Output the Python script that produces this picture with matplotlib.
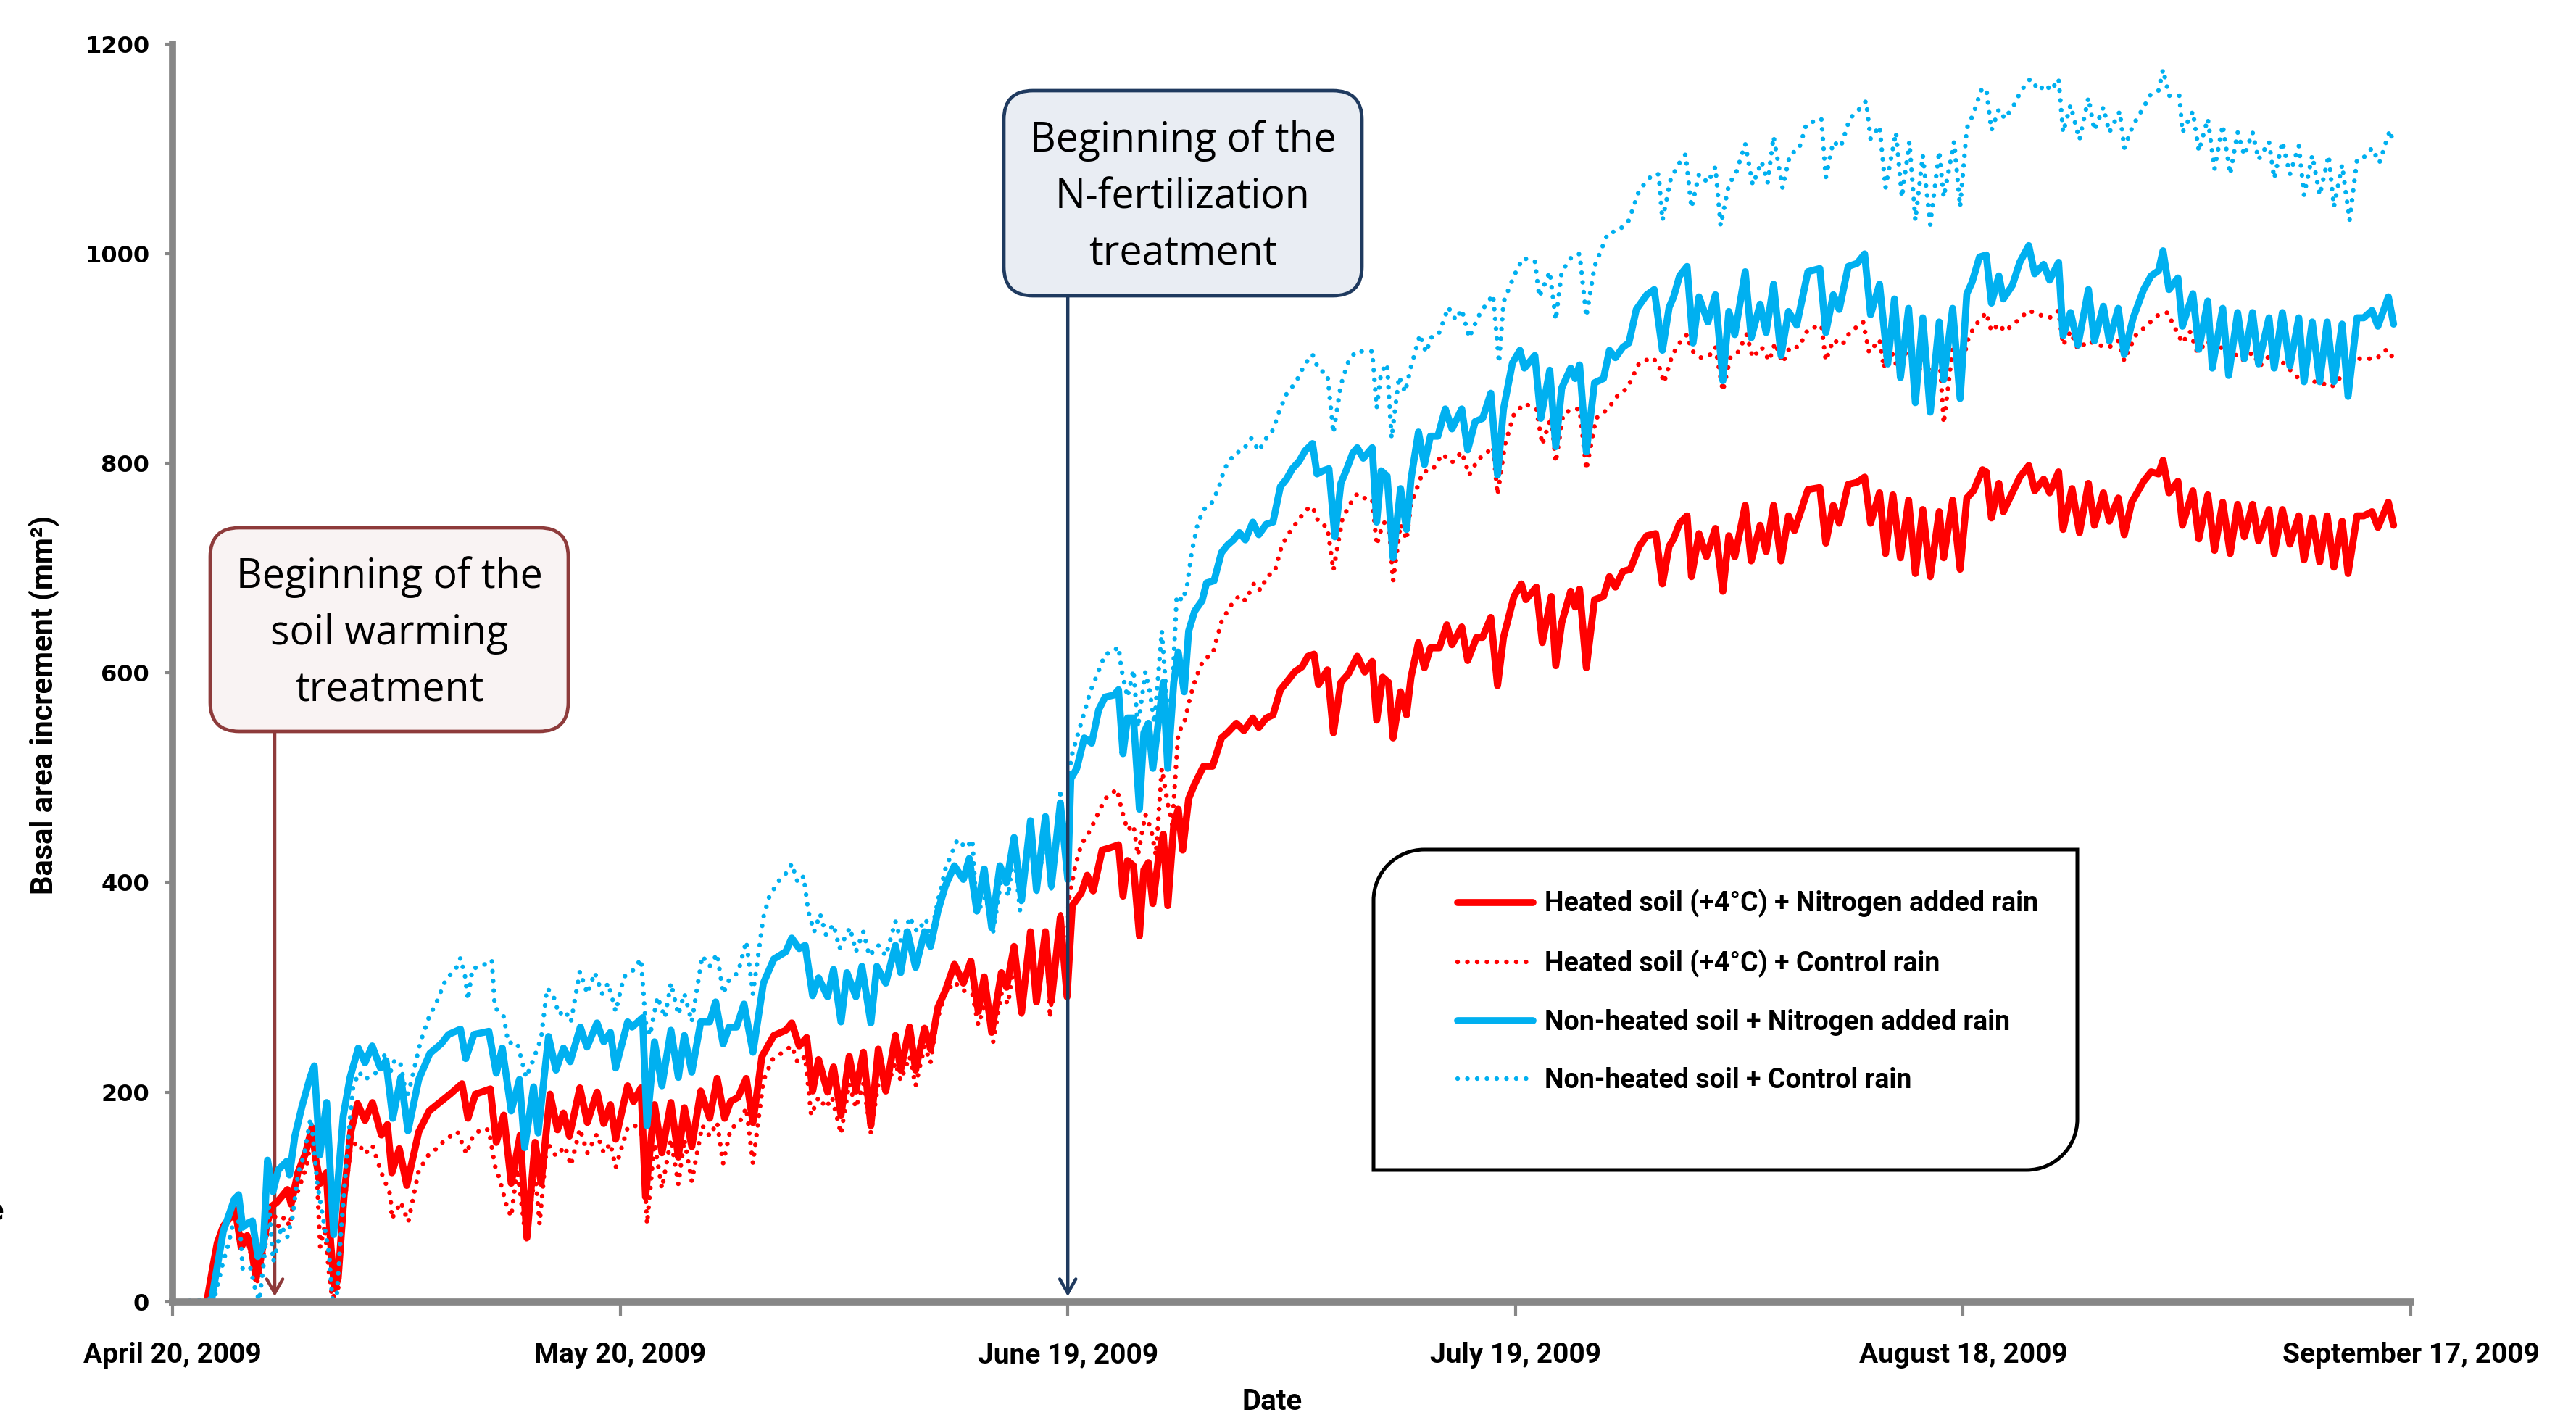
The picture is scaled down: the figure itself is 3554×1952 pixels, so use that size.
import numpy as np
import matplotlib
matplotlib.use('Agg')
import matplotlib.pyplot as plt
from matplotlib.patches import FancyBboxPatch, PathPatch
from matplotlib.path import Path

# (days after April 20, 2009, basal area increment in mm2)
heated_n = [
    (2.3, 0), (2.7, 33), (3.0, 56), (3.4, 72), (3.8, 79), (4.2, 88), (4.6, 52), (5.0, 63), (5.3, 49), (5.6, 22),
    (5.9, 40), (6.3, 72), (6.65, 91), (7.0, 95), (7.3, 100), (7.7, 107), (7.95, 93), (8.4, 123), (8.9, 141), (9.35, 166),
    (9.6, 136), (9.9, 113), (10.3, 123), (10.6, 56), (10.85, 12), (11.1, 22), (11.5, 102), (11.95, 162), (12.4, 189), (12.9, 173),
    (13.4, 190), (14.0, 159), (14.4, 169), (14.7, 123), (15.2, 146), (15.7, 111), (16.5, 162), (17.2, 182), (17.9, 190), (18.6, 198),
    (19.4, 208), (19.8, 175), (20.3, 198), (21.3, 203), (21.7, 152), (22.2, 178), (22.7, 113), (23.3, 159), (23.75, 61), (24.3, 152),
    (24.7, 113), (25.3, 198), (25.8, 164), (26.2, 180), (26.6, 158), (27.3, 204), (27.8, 171), (28.45, 200), (28.9, 170), (29.35, 188),
    (29.7, 155), (30.5, 206), (30.9, 191), (31.4, 204), (31.7, 100), (32.3, 188), (32.8, 142), (33.4, 190), (33.9, 138), (34.3, 185),
    (34.8, 148), (35.4, 201), (36.0, 175), (36.5, 213), (37.0, 175), (37.4, 191), (37.9, 195), (38.45, 213), (38.9, 171), (39.5, 234),
    (40.3, 254), (41.1, 259), (41.5, 266), (42.0, 244), (42.5, 252), (42.9, 201), (43.3, 231), (43.9, 200), (44.3, 224), (44.8, 178),
    (45.35, 234), (45.8, 201), (46.3, 238), (46.8, 168), (47.3, 241), (47.8, 201), (48.45, 254), (48.8, 221), (49.4, 262), (49.8, 221),
    (50.4, 261), (50.8, 241), (51.3, 281), (51.8, 297), (52.4, 322), (53.0, 304), (53.5, 325), (54.0, 277), (54.4, 310), (54.9, 257),
    (55.55, 314), (55.9, 300), (56.4, 339), (56.9, 276), (57.5, 353), (57.9, 286), (58.5, 353), (58.9, 287), (59.5, 367), (59.95, 291),
    (60.3, 378), (60.9, 390), (61.3, 407), (61.7, 392), (62.3, 431), (62.8, 433), (63.4, 436), (63.7, 387), (64.0, 421), (64.4, 416),
    (64.8, 349), (65.1, 412), (65.4, 419), (65.7, 380), (66.1, 426), (66.4, 446), (66.7, 378), (67.1, 455), (67.4, 470), (67.7, 431),
    (68.1, 480), (68.5, 494), (69.1, 511), (69.7, 511), (70.3, 538), (70.7, 543), (71.3, 552), (71.8, 545), (72.4, 557), (72.8, 548),
    (73.3, 557), (73.75, 560), (74.25, 584), (74.65, 591), (75.2, 601), (75.7, 606), (76.1, 616), (76.5, 618), (76.8, 589), (77.4, 603),
    (77.8, 543), (78.3, 591), (78.8, 599), (79.4, 616), (79.9, 601), (80.4, 611), (80.7, 555), (81.1, 596), (81.5, 591), (81.8, 538),
    (82.3, 582), (82.7, 560), (83.0, 596), (83.5, 629), (83.9, 605), (84.3, 624), (84.9, 624), (85.4, 646), (85.75, 627), (86.4, 644),
    (86.8, 612), (87.4, 634), (87.8, 634), (88.35, 653), (88.8, 588), (89.2, 634), (89.9, 673), (90.4, 685), (90.7, 670), (91.4, 682),
    (91.8, 629), (92.4, 673), (92.7, 607), (93.1, 648), (93.7, 678), (94.0, 663), (94.3, 680), (94.75, 605), (95.3, 670), (95.9, 673),
    (96.3, 692), (96.7, 682), (97.2, 697), (97.7, 699), (98.3, 721), (98.8, 731), (99.4, 733), (99.85, 685), (100.3, 721), (100.6, 728),
    (101.0, 743), (101.5, 750), (101.8, 692), (102.3, 733), (102.8, 711), (103.4, 738), (103.9, 678), (104.3, 731), (104.7, 711), (105.4, 760),
    (105.8, 707), (106.4, 741), (106.8, 716), (107.3, 760), (107.8, 707), (108.3, 750), (108.7, 736), (109.6, 775), (110.4, 777), (110.8, 724),
    (111.3, 760), (111.7, 743), (112.3, 780), (112.9, 782), (113.4, 787), (113.8, 743), (114.4, 772), (114.8, 714), (115.3, 770), (115.8, 710),
    (116.35, 765), (116.8, 695), (117.3, 756), (117.8, 692), (118.4, 754), (118.7, 710), (119.3, 765), (119.8, 699), (120.25, 767), (120.7, 774),
    (121.3, 794), (121.55, 792), (121.9, 748), (122.4, 781), (122.7, 754), (123.3, 772), (123.8, 787), (124.4, 798), (124.8, 774), (125.4, 785),
    (125.8, 772), (126.4, 792), (126.7, 737), (127.3, 776), (127.8, 734), (128.4, 781), (128.8, 741), (129.4, 772), (129.8, 745), (130.4, 767),
    (130.8, 732), (131.3, 763), (132.1, 783), (132.6, 792), (133.1, 790), (133.4, 803), (133.8, 772), (134.4, 783), (134.7, 741), (135.4, 774),
    (135.8, 728), (136.4, 770), (136.85, 717), (137.4, 763), (137.9, 714), (138.4, 761), (138.85, 730), (139.4, 761), (139.8, 726), (140.5, 756),
    (140.85, 714), (141.4, 756), (141.9, 723), (142.5, 750), (142.85, 708), (143.4, 748), (143.9, 706), (144.4, 750), (144.85, 701), (145.4, 745),
    (145.8, 695), (146.4, 750), (146.85, 750), (147.4, 754), (147.8, 739), (148.5, 763), (148.85, 741),
]

heated_ctrl = [
    (2.3, 0), (2.57, 17), (2.84, 38), (3.12, 61), (3.5, 77), (3.86, 84), (4.24, 79), (4.6, 65), (5.07, 56), (5.45, 33),
    (5.7, 19), (6.0, 38), (6.4, 68), (6.75, 86), (7.1, 72), (7.5, 81), (7.86, 72), (8.1, 95), (8.5, 109), (9.0, 130),
    (9.35, 162), (9.63, 132), (9.9, 52), (10.2, 72), (10.5, 26), (10.7, 3), (11.1, 12), (11.5, 91), (11.95, 148), (12.4, 152),
    (12.9, 141), (13.4, 149), (14.0, 123), (14.6, 102), (14.7, 79), (15.3, 95), (15.8, 76), (16.5, 125), (17.2, 141), (17.7, 146),
    (18.3, 155), (19.1, 162), (19.7, 141), (20.1, 157), (20.7, 165), (21.2, 164), (21.6, 130), (21.9, 118), (22.4, 91), (22.7, 81),
    (23.1, 127), (23.7, 58), (24.3, 123), (24.6, 74), (25.1, 152), (25.7, 139), (26.3, 148), (26.7, 130), (27.3, 165), (27.8, 142),
    (28.45, 160), (28.9, 142), (29.35, 151), (29.7, 128), (30.5, 166), (31.0, 168), (31.5, 158), (31.8, 74), (32.3, 151), (32.8, 108),
    (33.4, 155), (33.9, 112), (34.3, 155), (34.8, 115), (35.5, 168), (36.0, 158), (36.5, 171), (36.9, 132), (37.4, 165), (38.0, 171),
    (38.45, 185), (38.9, 132), (39.6, 211), (40.2, 231), (40.9, 238), (41.5, 244), (41.9, 228), (42.4, 234), (42.8, 178), (43.3, 195),
    (43.8, 185), (44.2, 195), (44.8, 160), (45.35, 208), (45.8, 185), (46.3, 208), (46.8, 161), (47.3, 208), (47.8, 201), (48.45, 228),
    (48.8, 211), (49.4, 234), (49.8, 206), (50.4, 244), (50.8, 228), (51.2, 267), (51.8, 294), (52.4, 305), (53.0, 297), (53.6, 294),
    (54.0, 264), (54.5, 287), (55.0, 248), (55.55, 294), (56.0, 284), (56.4, 324), (56.9, 274), (57.4, 347), (57.9, 284), (58.6, 347),
    (58.8, 271), (59.5, 373), (59.95, 294), (60.05, 382), (60.5, 416), (60.9, 436), (61.5, 450), (62.0, 465), (62.5, 480), (63.3, 489),
    (63.6, 470), (64.0, 450), (64.4, 455), (64.7, 426), (65.2, 465), (65.6, 450), (65.9, 426), (66.3, 509), (66.7, 475), (67.0, 455),
    (67.4, 543), (67.8, 552), (68.2, 577), (68.6, 596), (69.1, 613), (69.7, 618), (70.3, 649), (70.9, 664), (71.5, 674), (71.9, 669),
    (72.5, 686), (72.9, 679), (73.4, 693), (73.85, 696), (74.35, 722), (74.85, 734), (75.5, 747), (76.0, 756), (76.4, 759), (76.8, 744),
    (77.4, 739), (77.8, 698), (78.4, 747), (78.9, 761), (79.4, 771), (80.0, 766), (80.4, 766), (80.7, 722), (81.1, 742), (81.5, 747),
    (81.8, 688), (82.3, 742), (82.7, 727), (83.0, 761), (83.8, 792), (84.45, 794), (85.1, 809), (85.75, 801), (86.4, 811), (86.9, 789),
    (87.5, 804), (88.0, 809), (88.5, 816), (88.8, 770), (89.3, 818), (89.9, 847), (90.6, 857), (91.4, 852), (91.8, 818), (92.4, 845),
    (92.7, 801), (93.2, 847), (93.8, 852), (94.3, 852), (94.75, 794), (95.4, 843), (96.2, 852), (96.8, 864), (97.5, 872), (98.3, 896),
    (99.2, 901), (99.6, 894), (99.95, 877), (100.5, 903), (101.0, 915), (101.5, 923), (101.8, 908), (102.4, 901), (103.0, 903), (103.4, 911),
    (103.9, 869), (104.4, 901), (104.9, 906), (105.5, 923), (105.9, 901), (106.5, 911), (107.0, 898), (107.4, 915), (107.9, 896), (108.4, 911),
    (109.0, 911), (109.6, 928), (110.5, 932), (110.8, 898), (111.3, 918), (111.9, 913), (112.4, 925), (113.3, 935), (113.7, 906), (114.4, 918),
    (114.7, 891), (114.95, 917), (115.7, 887), (116.35, 913), (116.8, 869), (117.4, 913), (117.9, 873), (118.4, 909), (118.7, 838), (119.3, 909),
    (119.8, 887), (120.4, 922), (121.0, 935), (121.55, 944), (121.9, 926), (122.4, 933), (122.8, 926), (123.55, 935), (124.4, 946), (125.1, 942),
    (125.8, 939), (126.4, 946), (126.7, 913), (127.2, 926), (127.7, 909), (128.4, 917), (129.0, 913), (129.8, 911), (130.4, 917), (130.8, 898),
    (131.55, 922), (132.4, 933), (133.1, 942), (133.7, 944), (134.0, 935), (134.7, 915), (135.2, 926), (135.7, 906), (136.4, 917), (136.85, 906),
    (137.55, 913), (138.7, 898), (139.4, 906), (139.9, 893), (140.6, 904), (141.3, 898), (141.8, 891), (142.7, 878), (143.8, 878), (144.7, 873),
    (145.6, 887), (146.4, 900), (147.7, 900), (148.4, 909), (148.75, 902),
]

nonheated_n = [
    (2.6, 0), (3.4, 67), (4.15, 98), (4.43, 102), (4.7, 71), (5.07, 75), (5.35, 77), (5.72, 43), (6.09, 54), (6.37, 135),
    (6.73, 105), (7.1, 126), (7.66, 134), (7.84, 121), (8.2, 158), (8.67, 186), (9.22, 214), (9.5, 225), (9.87, 140), (10.33, 190),
    (10.8, 64), (11.44, 177), (11.9, 214), (12.45, 242), (12.9, 228), (13.38, 244), (13.93, 223), (14.3, 230), (14.76, 175), (15.3, 214),
    (15.78, 163), (16.5, 212), (17.25, 237), (18.0, 246), (18.5, 255), (19.3, 260), (19.65, 232), (20.2, 255), (21.2, 258), (21.7, 218),
    (22.1, 242), (22.7, 182), (23.25, 212), (23.6, 147), (24.2, 205), (24.5, 161), (25.2, 253), (25.7, 221), (26.2, 242), (26.65, 229),
    (27.33, 262), (27.78, 243), (28.45, 266), (28.9, 248), (29.35, 257), (29.7, 223), (30.5, 267), (30.8, 262), (31.5, 271), (31.8, 168),
    (32.3, 248), (32.8, 206), (33.4, 259), (33.9, 214), (34.3, 254), (34.8, 219), (35.4, 267), (36.0, 267), (36.4, 286), (36.9, 246),
    (37.3, 262), (37.8, 262), (38.3, 284), (38.9, 238), (39.6, 304), (40.3, 327), (41.1, 334), (41.5, 347), (42.0, 337), (42.4, 340),
    (42.9, 292), (43.3, 309), (43.9, 291), (44.3, 317), (44.8, 267), (45.2, 314), (45.8, 291), (46.2, 320), (46.8, 266), (47.2, 320),
    (47.8, 304), (48.45, 340), (48.8, 314), (49.25, 353), (49.8, 319), (50.4, 353), (50.8, 339), (51.3, 373), (51.8, 397), (52.4, 416),
    (53.0, 403), (53.4, 423), (53.9, 373), (54.4, 413), (54.9, 357), (55.45, 416), (55.9, 400), (56.4, 443), (56.9, 383), (57.5, 459),
    (57.9, 393), (58.5, 463), (58.9, 397), (59.5, 476), (60.0, 403), (60.2, 499), (60.6, 509), (61.1, 538), (61.6, 533), (62.07, 565),
    (62.5, 577), (63.1, 579), (63.4, 584), (63.7, 523), (64.0, 557), (64.4, 557), (64.8, 470), (65.1, 543), (65.4, 552), (65.7, 509),
    (66.1, 557), (66.4, 591), (66.7, 509), (67.1, 591), (67.4, 620), (67.8, 582), (68.1, 640), (68.5, 659), (69.0, 669), (69.3, 686),
    (69.8, 688), (70.3, 715), (70.7, 722), (71.1, 727), (71.5, 734), (71.9, 727), (72.4, 744), (72.8, 732), (73.3, 742), (73.75, 744),
    (74.25, 778), (74.65, 785), (75.05, 795), (75.5, 802), (75.9, 812), (76.4, 819), (76.7, 790), (77.1, 793), (77.5, 795), (77.9, 730),
    (78.3, 781), (78.7, 795), (79.1, 810), (79.4, 815), (79.8, 805), (80.4, 815), (80.7, 744), (81.0, 793), (81.4, 788), (81.8, 710),
    (82.3, 776), (82.7, 737), (83.0, 785), (83.5, 830), (83.9, 799), (84.3, 826), (84.8, 826), (85.3, 852), (85.75, 833), (86.4, 852),
    (86.8, 813), (87.3, 840), (87.8, 843), (88.35, 867), (88.8, 789), (89.2, 852), (89.8, 896), (90.3, 908), (90.6, 891), (91.3, 903),
    (91.7, 843), (92.3, 889), (92.7, 816), (93.1, 872), (93.7, 891), (94.0, 881), (94.3, 894), (94.75, 811), (95.3, 877), (95.9, 881),
    (96.3, 908), (96.7, 901), (97.2, 911), (97.6, 915), (98.1, 947), (98.8, 961), (99.3, 966), (99.85, 908), (100.3, 949), (100.6, 959),
    (101.0, 979), (101.5, 988), (101.9, 915), (102.3, 959), (102.9, 935), (103.4, 961), (103.9, 879), (104.3, 945), (104.7, 923), (105.4, 983),
    (105.8, 920), (106.4, 952), (106.8, 925), (107.3, 971), (107.8, 903), (108.3, 945), (108.85, 932), (109.6, 983), (110.4, 986), (110.8, 925),
    (111.3, 961), (111.7, 947), (112.3, 988), (112.9, 991), (113.4, 1000), (113.8, 942), (114.4, 971), (114.95, 895), (115.4, 957), (115.8, 882),
    (116.35, 948), (116.8, 858), (117.3, 939), (117.8, 849), (118.4, 935), (118.7, 880), (119.3, 948), (119.8, 862), (120.25, 962), (120.6, 973),
    (121.1, 997), (121.55, 999), (121.9, 953), (122.4, 979), (122.7, 957), (123.3, 970), (123.8, 992), (124.4, 1008), (124.8, 981), (125.4, 990),
    (125.8, 975), (126.4, 992), (126.7, 922), (127.2, 944), (127.7, 913), (128.4, 966), (128.8, 917), (129.4, 950), (129.8, 917), (130.4, 948),
    (130.8, 904), (131.4, 939), (132.1, 966), (132.6, 979), (133.1, 984), (133.4, 1003), (133.8, 966), (134.4, 977), (134.7, 931), (135.4, 962),
    (135.8, 909), (136.4, 955), (136.7, 891), (137.4, 948), (137.8, 884), (138.4, 944), (138.85, 900), (139.4, 944), (139.8, 895), (140.5, 939),
    (140.85, 891), (141.4, 944), (141.9, 893), (142.5, 939), (142.85, 878), (143.4, 935), (143.9, 878), (144.4, 935), (144.85, 878), (145.4, 933),
    (145.8, 864), (146.4, 939), (146.85, 939), (147.4, 946), (147.8, 931), (148.5, 959), (148.85, 933),
]

nonheated_ctrl = [
    (0.5, 0), (2.8, 3), (3.4, 38), (3.77, 56), (4.05, 74), (4.5, 77), (4.7, 31), (5.2, 33), (5.54, 12), (5.82, 1),
    (6.1, 35), (6.47, 91), (6.75, 38), (7.0, 52), (7.3, 72), (7.68, 61), (8.05, 81), (8.42, 123), (8.8, 139), (9.25, 175),
    (9.4, 159), (9.7, 113), (10.1, 79), (10.5, 45), (10.7, 3), (11.0, 3), (11.3, 68), (11.8, 159), (12.1, 205), (12.5, 219),
    (12.9, 212), (13.6, 218), (14.2, 235), (14.6, 219), (14.9, 231), (15.3, 226), (15.7, 194), (16.0, 210), (16.6, 247), (17.2, 272),
    (17.7, 286), (18.3, 307), (19.0, 318), (19.3, 328), (19.6, 311), (19.8, 288), (20.1, 318), (20.7, 320), (21.4, 326), (21.6, 281),
    (22.2, 272), (22.5, 247), (23.1, 247), (23.7, 214), (24.1, 228), (24.7, 251), (25.1, 299), (25.5, 293), (25.9, 274), (26.3, 278),
    (26.7, 267), (27.3, 315), (27.8, 294), (28.3, 314), (28.8, 294), (29.2, 304), (29.7, 277), (30.25, 310), (30.8, 315), (31.4, 327),
    (31.7, 267), (32.0, 254), (32.5, 291), (33.0, 271), (33.4, 304), (33.9, 274), (34.3, 294), (34.8, 267), (35.5, 330), (36.0, 320),
    (36.5, 332), (36.9, 294), (37.3, 307), (37.9, 314), (38.45, 344), (38.9, 294), (39.6, 367), (40.0, 387), (40.7, 403), (41.2, 410),
    (41.5, 418), (41.9, 400), (42.3, 406), (42.6, 373), (43.0, 353), (43.4, 370), (43.8, 350), (44.3, 360), (44.7, 337), (45.4, 357),
    (45.8, 334), (46.3, 353), (46.7, 330), (47.3, 340), (47.8, 330), (48.45, 363), (48.9, 340), (49.4, 367), (49.9, 353), (50.5, 365),
    (50.8, 347), (51.3, 383), (51.8, 413), (52.6, 441), (53.2, 433), (53.6, 441), (53.9, 370), (54.5, 387), (55.0, 353), (55.65, 413),
    (56.0, 387), (56.4, 430), (56.8, 373), (57.5, 450), (57.9, 390), (58.6, 453), (58.9, 393), (59.5, 489), (59.95, 406), (60.2, 518),
    (60.6, 538), (61.1, 562), (61.5, 582), (61.9, 596), (62.5, 618), (63.0, 620), (63.4, 625), (63.6, 603), (64.0, 577), (64.4, 603),
    (64.7, 548), (65.2, 601), (65.5, 582), (65.8, 552), (66.3, 640), (66.6, 582), (66.9, 552), (67.3, 674), (67.7, 669), (68.0, 684),
    (68.3, 715), (68.7, 742), (69.1, 756), (69.6, 761), (70.1, 776), (70.5, 795), (71.2, 810), (71.7, 812), (72.3, 824), (72.8, 812),
    (73.3, 824), (73.75, 832), (74.15, 849), (74.65, 866), (75.3, 878), (75.9, 895), (76.4, 904), (76.8, 890), (77.4, 885), (77.8, 829),
    (78.3, 875), (78.8, 897), (79.3, 907), (79.9, 907), (80.4, 907), (80.7, 853), (81.0, 887), (81.4, 895), (81.7, 824), (82.2, 883),
    (82.6, 868), (83.0, 892), (83.6, 923), (84.0, 906), (84.45, 923), (84.9, 925), (85.5, 949), (86.0, 937), (86.4, 947), (86.9, 920),
    (87.5, 940), (87.9, 949), (88.5, 961), (88.9, 896), (89.2, 954), (89.9, 979), (90.5, 996), (91.3, 993), (91.6, 959), (92.3, 983),
    (92.7, 937), (93.1, 983), (93.8, 998), (94.3, 1000), (94.75, 940), (95.3, 988), (96.2, 1020), (96.9, 1022), (97.6, 1032), (98.3, 1061),
    (99.2, 1076), (99.6, 1076), (99.85, 1032), (100.4, 1071), (100.9, 1085), (101.4, 1095), (101.8, 1044), (102.3, 1076), (102.9, 1068), (103.4, 1083),
    (103.75, 1027), (104.3, 1066), (104.8, 1078), (105.4, 1105), (105.9, 1066), (106.5, 1088), (106.9, 1068), (107.3, 1112), (107.9, 1063), (108.4, 1095),
    (109.0, 1100), (109.5, 1124), (110.5, 1129), (110.8, 1073), (111.3, 1107), (111.8, 1102), (112.4, 1129), (113.1, 1139), (113.5, 1146), (113.8, 1110),
    (114.4, 1122), (114.8, 1063), (115.5, 1116), (115.9, 1054), (116.4, 1107), (116.8, 1032), (117.3, 1094), (117.8, 1028), (118.4, 1098), (118.7, 1054),
    (119.4, 1107), (119.8, 1045), (120.25, 1120), (120.7, 1134), (121.2, 1156), (121.55, 1158), (121.9, 1118), (122.4, 1138), (122.8, 1129), (123.4, 1142),
    (123.9, 1156), (124.5, 1167), (125.1, 1156), (125.5, 1162), (125.9, 1156), (126.4, 1167), (126.7, 1116), (127.2, 1142), (127.8, 1109), (128.4, 1149),
    (128.8, 1118), (129.4, 1140), (129.8, 1116), (130.5, 1136), (130.8, 1101), (131.4, 1123), (132.1, 1140), (132.6, 1153), (133.1, 1156), (133.4, 1176),
    (133.8, 1151), (134.5, 1151), (134.7, 1116), (135.4, 1136), (135.8, 1098), (136.4, 1129), (136.85, 1081), (137.4, 1123), (137.9, 1076), (138.4, 1116),
    (138.85, 1094), (139.4, 1116), (139.8, 1090), (140.5, 1107), (140.85, 1072), (141.4, 1107), (141.9, 1076), (142.5, 1103), (142.85, 1056), (143.4, 1094),
    (143.9, 1056), (144.5, 1094), (144.85, 1045), (145.4, 1085), (145.9, 1032), (146.4, 1090), (146.85, 1092), (147.4, 1101), (147.9, 1087), (148.6, 1118),
    (148.85, 1105),
]

series_labels = [
    'Heated soil (+4°C) + Nitrogen added rain',
    'Heated soil (+4°C) + Control rain',
    'Non-heated soil + Nitrogen added rain',
    'Non-heated soil + Control rain',
]

x_tick_days = [0, 30, 60, 90, 120, 150]
x_tick_labels = ['April 20, 2009', 'May 20, 2009', 'June 19, 2009',
                 'July 19, 2009', 'August 18, 2009', 'September 17, 2009']
y_ticks = [0, 200, 400, 600, 800, 1000, 1200]

warming_start = 6.85    # day the soil warming began
fert_start = 60         # June 19, 2009

RED = '#FF0000'
BLUE = '#00B0F0'
GREY = '#878787'
narrow = ['Roboto', 'DejaVu Sans']

W, H = 3555, 1952
fig = plt.figure(figsize=(W / 100, H / 100), dpi=100)
ax = fig.add_axes([0.06695, 0.08012, 0.86863, 0.88853])

lines = []
for data, col, dotted, z in [(heated_n, RED, False, 3), (heated_ctrl, RED, True, 4),
                             (nonheated_n, BLUE, False, 5), (nonheated_ctrl, BLUE, True, 6)]:
    d = np.array(data, dtype=float)
    if dotted:
        ln, = ax.plot(d[:, 0], d[:, 1], color=col, lw=4.6, linestyle=(0, (0.01, 2.1)),
                      dash_capstyle='round', zorder=z)
    else:
        ln, = ax.plot(d[:, 0], d[:, 1], color=col, lw=7, solid_joinstyle='round',
                      solid_capstyle='round', zorder=z)
    lines.append(ln)

ax.set_xlim(0, 150)
ax.set_ylim(0, 1200)
for s in ['top', 'right']:
    ax.spines[s].set_visible(False)
for s in ['left', 'bottom']:
    ax.spines[s].set_color(GREY)
    ax.spines[s].set_linewidth(7)
    ax.spines[s].set_capstyle('projecting')
    ax.spines[s].set_zorder(7)

ax.set_yticks(y_ticks)
ax.set_yticklabels([str(v) for v in y_ticks], fontsize=23, fontweight='bold', family='DejaVu Sans')
ax.tick_params(axis='y', direction='out', length=8, width=3, color=GREY, pad=15)
ax.set_xticks(x_tick_days)
ax.set_xticklabels(x_tick_labels, fontsize=28, fontweight='bold', family=narrow)
ax.tick_params(axis='x', direction='out', length=14, width=3, color=GREY, pad=26)

fig.text(0.01716, 0.5017, 'Basal area increment (mm²)', rotation=90, ha='center', va='center',
         fontsize=30, fontweight='bold', family=narrow)
fig.text(0.4937, 0.0092, 'Date', ha='center', va='center', fontsize=29, fontweight='bold', family=narrow)
fig.text(0.0015, 1 - 1672 / H, 'e', ha='right', va='center', fontsize=30, fontweight='bold')

# annotation boxes with arrows down to the x axis
boxes = [
    ((290, 728, 784, 1009), '#F9F3F3', '#8E3B3B', 'Beginning of the\nsoil warming\ntreatment', warming_start, 544, 2),
    ((1385, 125, 1879, 408), '#E9EDF3', '#1F3A5F', 'Beginning of the\nN-fertilization\ntreatment', fert_start, 960, 8),
]
for (x0, y0, x1, y1), fc, ec, txt, day, ytop, az in boxes:
    patch = FancyBboxPatch((x0 / W, 1 - y1 / H), (x1 - x0) / W, (y1 - y0) / H,
                           boxstyle='round,pad=0,rounding_size=%f' % (40 / W),
                           mutation_aspect=W / H, transform=fig.transFigure,
                           fc=fc, ec=ec, lw=3.4, zorder=8)
    fig.add_artist(patch)
    fig.text((x0 + x1) / 2 / W, 1 - ((y0 + y1) / 2 + 6) / H, txt, ha='center', va='center',
             multialignment='center', fontsize=40, family=['Open Sans', 'DejaVu Sans'],
             linespacing=1.5, zorder=9)
    ax.annotate('', xy=(day, 5), xytext=(day, ytop),
                arrowprops=dict(arrowstyle='->,head_length=0.7,head_width=0.4', color=ec,
                                lw=3.2, shrinkA=0, shrinkB=0, mutation_scale=20),
                annotation_clip=False, zorder=az)

# legend frame: rounded top-left and bottom-right corners
x0, x1, y0, y1, r = 1895, 2866, 1172, 1614, 70
k = 0.5523 * r
pts = [(x0, y1), (x0, y0 + r), (x0, y0 + r - k), (x0 + r - k, y0), (x0 + r, y0), (x1, y0),
       (x1, y1 - r), (x1, y1 - r + k), (x1 - r + k, y1), (x1 - r, y1), (x0, y1), (x0, y1)]
codes = [Path.MOVETO, Path.LINETO, Path.CURVE4, Path.CURVE4, Path.CURVE4, Path.LINETO,
         Path.LINETO, Path.CURVE4, Path.CURVE4, Path.CURVE4, Path.LINETO, Path.CLOSEPOLY]
frame = PathPatch(Path([(px / W, 1 - py / H) for px, py in pts], codes),
                  transform=fig.transFigure, fc='white', ec='black', lw=3.6, zorder=8)
fig.add_artist(frame)

leg = fig.legend(lines, series_labels, loc='upper left', bbox_to_anchor=(0.5657, 0.3715),
                 frameon=False, borderpad=0, borderaxespad=0, handlelength=2.77,
                 handletextpad=0.43, labelspacing=1.15,
                 prop=dict(family=narrow, weight='bold', size=27))
leg.set_zorder(9)

fig.savefig('out.png', dpi=100, facecolor='white')
